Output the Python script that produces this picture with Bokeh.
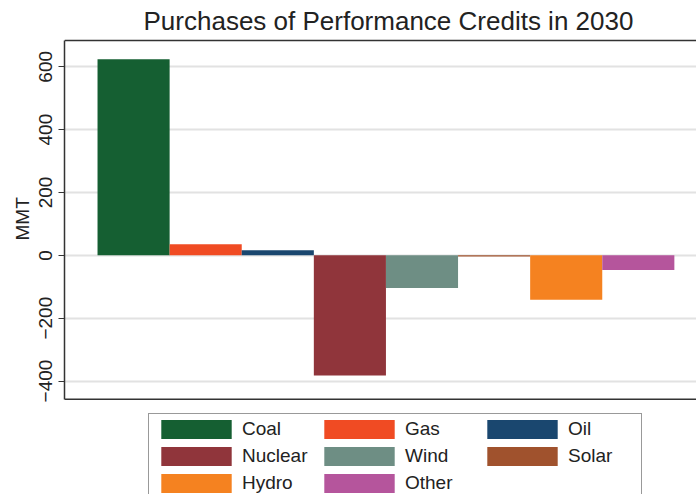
from bokeh.plotting import figure
from bokeh.models import (ColumnDataSource, Legend, LegendItem, Range1d, FixedTicker,
                          Span, Title)
from bokeh.embed import file_html
from bokeh.resources import INLINE

# ---- data ----
categories = ["Coal", "Gas", "Oil", "Nuclear", "Wind", "Solar", "Hydro", "Other"]
values = [624, 35, 16, -382, -104, -4, -141, -47]
colors = ["#155f32", "#f04b23", "#1a476f", "#90353b", "#6e8e84", "#a0522d", "#f58220", "#b5559c"]
y_ticks = [-400, -200, 0, 200, 400, 600]
title_text = "Purchases of Performance Credits in 2030"
y_label = "MMT"

# plot-region limits (value axis) and extra room kept below it for the legend
y_lo, y_hi = -458, 684
y_range_lo, y_range_hi = -761, 690

FONT = "Liberation Sans"
EDGE = "#333333"
TEXT = "#222222"

p = figure(width=696, height=494, output_backend="svg", toolbar_location=None,
           x_range=Range1d(0.042, 8.807), y_range=Range1d(y_range_lo, y_range_hi),
           min_border_left=64, min_border_right=0, min_border_top=38, min_border_bottom=0)

items = []
for i, (cat, val, col) in enumerate(zip(categories, values, colors)):
    src = ColumnDataSource(dict(x=[i + 1], top=[val], bottom=[0]))
    r = p.vbar(x="x", top="top", bottom="bottom", width=1.0, source=src,
               fill_color=col, line_color=None)
    items.append(LegendItem(label=cat, renderers=[r]))

p.title.text = title_text
p.title.align = "left"
p.title.offset = 79
p.title.text_font = FONT
p.title.text_font_size = "26px"
p.title.text_font_style = "normal"
p.title.text_color = TEXT
p.title.standoff = 5

p.xaxis.visible = False
p.xgrid.visible = False

p.yaxis.ticker = FixedTicker(ticks=y_ticks)
p.yaxis.bounds = (y_lo, y_hi)
p.yaxis.major_label_orientation = "vertical"
p.yaxis.major_label_text_font = FONT
p.yaxis.major_label_text_font_size = "19px"
p.yaxis.major_label_text_color = TEXT
p.yaxis.major_label_standoff = 6
p.yaxis.major_tick_out = 6
p.yaxis.major_tick_in = 0
p.yaxis.minor_tick_line_color = None
p.yaxis.axis_line_color = EDGE
p.yaxis.major_tick_line_color = EDGE
p.yaxis.axis_line_width = 1.5

# y axis title, placed beside the plot region (not the legend area)
p.add_layout(Title(text=y_label, align="left", offset=254, standoff=7,
                   text_font=FONT, text_font_size="19px", text_font_style="normal",
                   text_color=TEXT), "left")

p.ygrid.grid_line_color = "#e2e2e2"
p.ygrid.grid_line_width = 2

# border of the plot region (top and bottom edges)
p.add_layout(Span(location=y_hi, dimension="width", line_color=EDGE, line_width=1.5))
p.add_layout(Span(location=y_lo, dimension="width", line_color=EDGE, line_width=1.5))

p.outline_line_color = None
p.background_fill_color = "white"
p.border_fill_color = "white"

legend = Legend(items=items, orientation="horizontal", ncols=3, location=(84, -5))
legend.glyph_width = 88
legend.glyph_height = 24
legend.label_text_font = FONT
legend.label_text_font_size = "19px"
legend.label_text_color = TEXT
legend.label_standoff = 2
legend.label_width = 70
legend.spacing = 3
legend.padding = 3
legend.margin = 0
legend.border_line_color = EDGE
legend.border_line_width = 1
legend.background_fill_alpha = 1
p.add_layout(legend, "center")

open("out.html", "w").write(file_html(p, INLINE))
